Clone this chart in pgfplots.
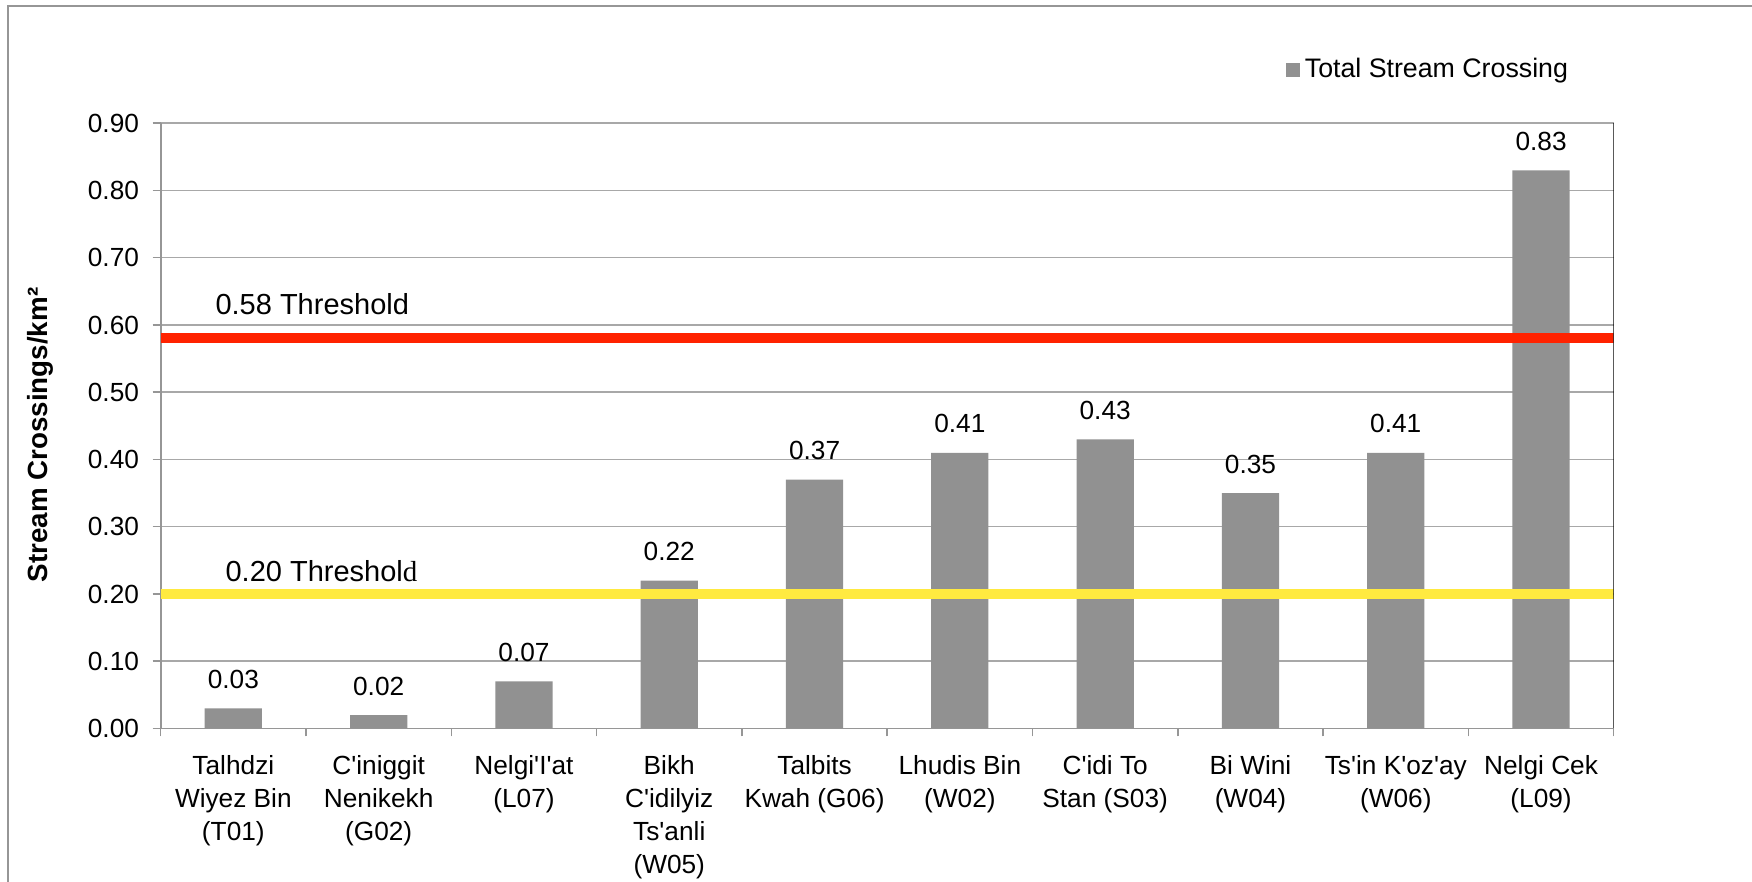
\documentclass[border=0pt]{standalone}
\usepackage{fontspec}
\setmainfont{Liberation Sans}[Ligatures=TeXOff]
\newfontfamily\serifd{Liberation Serif}
\usepackage{pgfplots}
\pgfplotsset{compat=1.18}

\definecolor{barfill}{RGB}{145,145,145}
\definecolor{gridc}{RGB}{168,168,168}
\definecolor{axisc}{RGB}{150,150,150}
\definecolor{redline}{RGB}{255,34,0}
\definecolor{yelline}{RGB}{255,234,64}

\begin{document}
\fontsize{10.5}{12.8}\selectfont
\begin{tikzpicture}
\path[use as bounding box] (0,0) rectangle (700.8pt,352.8pt);
% outer chart frame, left and top edges
\draw[axisc, line width=0.6pt] (3.1pt,0) -- (3.1pt,350.4pt) -- (700.8pt,350.4pt);
\begin{axis}[
  at={(64.28pt,61.4pt)}, anchor=south west,
  scale only axis, width=581.2pt, height=242.1pt,
  xmin=-0.5, xmax=9.5, ymin=0, ymax=0.9,
  axis lines=left,
  axis line style={-, axisc, line width=0.7pt},
  tick align=outside,
  major tick length=3.2pt, minor tick length=3.2pt,
  ytick={0,0.1,0.2,0.3,0.4,0.5,0.6,0.7,0.8,0.9},
  y tick style={axisc, line width=0.6pt},
  ymajorgrids, grid style={gridc, line width=0.6pt},
  /pgf/number format/assume math mode=true,
  yticklabel style={/pgf/number format/fixed, /pgf/number format/fixed zerofill,
    /pgf/number format/precision=2, xshift=-1.8pt,
    font=\fontsize{10.5}{12.8}\selectfont},
  xtick={0,1,2,3,4,5,6,7,8,9},
  major x tick style={draw=none},
  minor xtick={-0.5,0.5,1.5,2.5,3.5,4.5,5.5,6.5,7.5,8.5,9.5},
  minor x tick style={axisc, line width=0.6pt},
  xticklabels={
    {Talhdzi\\Wiyez Bin\\(T01)},
    {C'iniggit\\Nenikekh\\(G02)},
    {Nelgi'I'at\\(L07)},
    {Bikh\\C'idilyiz\\Ts'anli\\(W05)},
    {Talbits\\Kwah (G06)},
    {Lhudis Bin\\(W02)},
    {C'idi To\\Stan (S03)},
    {Bi Wini\\(W04)},
    {Ts'in K'oz'ay\\(W06)},
    {Nelgi Cek\\(L09)}},
  xticklabel style={align=center, anchor=north, yshift=-3.8pt,
    font=\fontsize{10.5}{13.2}\selectfont},
  ylabel={Stream Crossings/km²},
  ylabel style={at={(axis description cs:-0.083,0.485)}, anchor=center,
    font=\bfseries\fontsize{11.1}{13}\selectfont},
  legend style={draw=none, fill=none, inner sep=0pt,
    at={(axis description cs:0.774,1.088)}, anchor=west,
    font=\fontsize{10.7}{12.8}\selectfont},
  legend image code/.code={\fill[barfill] (0pt,-2.8pt) rectangle (5.6pt,2.8pt);},
]
\addplot[ybar, bar width=22.9pt, fill=barfill, draw=none,
  nodes near coords,
  nodes near coords style={anchor=base, yshift=8pt, black,
    /pgf/number format/fixed, /pgf/number format/fixed zerofill,
    /pgf/number format/precision=2, font=\fontsize{10.5}{12.8}\selectfont}]
  coordinates {(0,0.03) (1,0.02) (2,0.07) (3,0.22) (4,0.37)
               (5,0.41) (6,0.43) (7,0.35) (8,0.41) (9,0.83)};
\addlegendentry{Total Stream Crossing}
% threshold lines
\addplot[redline, line width=4pt, forget plot] coordinates {(-0.5,0.58) (9.5,0.58)};
\addplot[yelline, line width=4pt, forget plot] coordinates {(-0.5,0.20) (9.5,0.20)};
\node[anchor=base west, inner sep=0pt, font=\fontsize{11.6}{14}\selectfont]
  at (axis cs:-0.126,0.615) {0.58 Threshold};
\node[anchor=base west, inner sep=0pt, font=\fontsize{11.6}{14}\selectfont]
  at (axis cs:-0.057,0.218) {0.20 Threshol{\serifd d}};
% right edge of the plot area
\draw[black, line width=0.7pt] (rel axis cs:1,0) -- (rel axis cs:1,1);
\end{axis}
\end{tikzpicture}
\end{document}
